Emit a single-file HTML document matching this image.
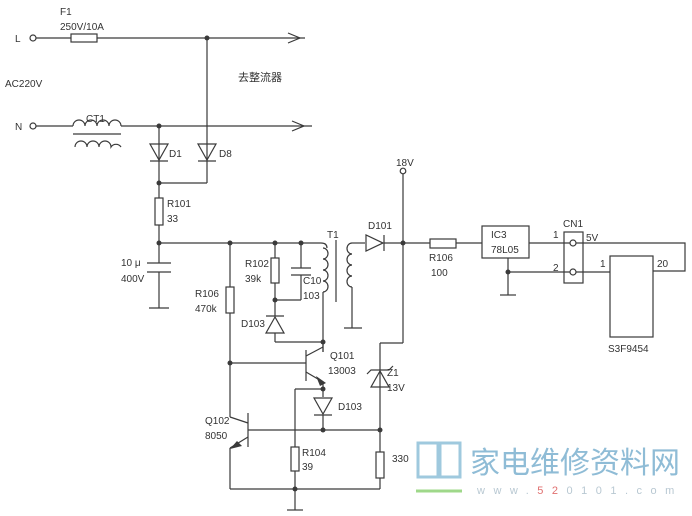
<!DOCTYPE html>
<html><head><meta charset="utf-8"><style>
html,body{margin:0;padding:0;background:#fff}
svg{display:block}
text{font-family:"Liberation Sans","Noto Sans CJK SC",sans-serif;fill:#333;font-size:10px}
</style></head><body>
<svg width="692" height="516" viewBox="0 0 692 516" xmlns="http://www.w3.org/2000/svg">
<rect width="692" height="516" fill="#fff"/>
<g stroke="#3a3a3a" stroke-width="1.2" fill="none">
<circle cx="33" cy="38" r="3"/>
<line x1="36" y1="38" x2="71" y2="38"/>
<rect x="71" y="34" width="26" height="8"/>
<line x1="97" y1="38" x2="305" y2="38"/>
<polyline points="288,33 300,38 288,43"/>
<circle cx="33" cy="126" r="3"/>
<line x1="36" y1="126" x2="73" y2="126"/>
<path d="M73,126 a6,6 0 0 1 12,0 a6,6 0 0 1 12,0 a6,6 0 0 1 12,0 a6,6 0 0 1 12,0"/>
<line x1="73" y1="134" x2="121" y2="134"/>
<path d="M75,147 a6,6 0 0 1 12,0 a6,6 0 0 1 12,0 a6,6 0 0 1 12,0 a6,6 0 0 1 10,0"/>
<line x1="121" y1="126" x2="312" y2="126"/>
<polyline points="292,121 304,126 292,131"/>
<line x1="159" y1="126" x2="159" y2="198"/>
<line x1="207" y1="38" x2="207" y2="183"/>
<line x1="207" y1="183" x2="159" y2="183"/>
<polygon points="150,144 168,144 159,160"/>
<line x1="150" y1="161" x2="168" y2="161"/>
<polygon points="198,144 216,144 207,160"/>
<line x1="198" y1="161" x2="216" y2="161"/>
<rect x="155" y="198" width="8" height="27"/>
<line x1="159" y1="225" x2="159" y2="263"/>
<line x1="147" y1="263" x2="171" y2="263"/>
<line x1="147" y1="272" x2="171" y2="272"/>
<line x1="159" y1="272" x2="159" y2="308"/>
<line x1="149" y1="308" x2="169" y2="308"/>
<line x1="159" y1="243" x2="321" y2="243"/>
<path d="M321,243 q6,0 6,5"/>
<line x1="230" y1="243" x2="230" y2="287"/>
<rect x="226" y="287" width="8" height="26"/>
<line x1="230" y1="313" x2="230" y2="417"/>
<line x1="275" y1="243" x2="275" y2="258"/>
<rect x="271" y="258" width="8" height="25"/>
<line x1="275" y1="283" x2="275" y2="316"/>
<line x1="275" y1="300" x2="301" y2="300"/>
<line x1="301" y1="243" x2="301" y2="268"/>
<line x1="291" y1="268" x2="311" y2="268"/>
<line x1="291" y1="275" x2="311" y2="275"/>
<line x1="301" y1="275" x2="301" y2="300"/>
<line x1="266" y1="316" x2="284" y2="316"/>
<polygon points="275,317 266,333 284,333"/>
<line x1="275" y1="333" x2="275" y2="342"/>
<line x1="275" y1="342" x2="323" y2="342"/>
<path d="M323,248 a5,5.5 0 0 1 0,11 a5,5.5 0 0 1 0,11 a5,5.5 0 0 1 0,11 a5,5.5 0 0 1 0,11"/>
<line x1="323" y1="292" x2="323" y2="352"/>
<line x1="336" y1="240" x2="336" y2="302"/>
<path d="M352,243 a5,5.5 0 0 0 0,11 a5,5.5 0 0 0 0,11 a5,5.5 0 0 0 0,11 a5,5.5 0 0 0 0,11"/>
<line x1="352" y1="287" x2="352" y2="328"/>
<line x1="344" y1="328" x2="362" y2="328"/>
<line x1="352" y1="243" x2="365" y2="243"/>
<polygon points="366,235 366,251 383,243"/>
<line x1="384" y1="235" x2="384" y2="251"/>
<line x1="384" y1="243" x2="430" y2="243"/>
<circle cx="403" cy="171" r="2.8"/>
<line x1="403" y1="174" x2="403" y2="343"/>
<line x1="403" y1="343" x2="380" y2="343"/>
<line x1="380" y1="343" x2="380" y2="452"/>
<polygon points="380,371 371,387 389,387"/>
<polyline points="367,374 371,370 389,370 393,366"/>
<rect x="376" y="452" width="8" height="26"/>
<line x1="380" y1="478" x2="380" y2="489"/>
<line x1="230" y1="363" x2="306" y2="363"/>
<line x1="306" y1="350" x2="306" y2="381"/>
<line x1="306" y1="356" x2="323" y2="347"/>
<line x1="306" y1="372" x2="323" y2="382"/>
<line x1="323" y1="342" x2="323" y2="352"/>
<line x1="323" y1="382" x2="323" y2="397"/>
<line x1="323" y1="389" x2="295" y2="389"/>
<line x1="295" y1="389" x2="295" y2="447"/>
<polygon points="314,398 332,398 323,414"/>
<line x1="314" y1="415" x2="332" y2="415"/>
<line x1="323" y1="415" x2="323" y2="430"/>
<line x1="248" y1="413" x2="248" y2="447"/>
<line x1="248" y1="430" x2="380" y2="430"/>
<line x1="230" y1="417" x2="248" y2="423"/>
<line x1="248" y1="437" x2="230" y2="448"/>
<line x1="230" y1="448" x2="230" y2="489"/>
<rect x="291" y="447" width="8" height="24"/>
<line x1="295" y1="471" x2="295" y2="510"/>
<line x1="230" y1="489" x2="380" y2="489"/>
<line x1="287" y1="510" x2="303" y2="510"/>
<rect x="430" y="239" width="26" height="9"/>
<line x1="456" y1="243" x2="482" y2="243"/>
<rect x="482" y="226" width="47" height="32"/>
<line x1="529" y1="243" x2="570" y2="243"/>
<line x1="508" y1="258" x2="508" y2="295"/>
<line x1="500" y1="295" x2="516" y2="295"/>
<line x1="508" y1="272" x2="570" y2="272"/>
<rect x="564" y="232" width="19" height="51"/>
<circle cx="573" cy="243" r="3"/>
<circle cx="573" cy="272" r="3"/>
<polyline points="576,243 685,243 685,271 653,271"/>
<line x1="576" y1="272" x2="610" y2="272"/>
<rect x="610" y="256" width="43" height="81"/>
</g>
<polygon points="316,376 326,383 320,386" fill="#3a3a3a"/>
<polygon points="237,441 230,449 242,446" fill="#3a3a3a"/>
<g fill="#3a3a3a">
<circle cx="207" cy="38" r="2.5"/><circle cx="159" cy="126" r="2.5"/><circle cx="159" cy="183" r="2.5"/>
<circle cx="159" cy="243" r="2.5"/><circle cx="230" cy="243" r="2.5"/><circle cx="275" cy="243" r="2.5"/><circle cx="301" cy="243" r="2.5"/>
<circle cx="275" cy="300" r="2.5"/><circle cx="323" cy="342" r="2.5"/><circle cx="230" cy="363" r="2.5"/>
<circle cx="323" cy="389" r="2.5"/><circle cx="323" cy="430" r="2.5"/><circle cx="380" cy="430" r="2.5"/>
<circle cx="295" cy="489" r="2.5"/><circle cx="403" cy="243" r="2.5"/><circle cx="508" cy="272" r="2.5"/>
</g>
<g>
<text x="60" y="15">F1</text>
<text x="60" y="30">250V/10A</text>
<text x="15" y="42">L</text>
<text x="15" y="130">N</text>
<text x="5" y="87">AC220V</text>
<text x="238" y="81" style="font-size:11px">去整流器</text>
<text x="86" y="122">CT1</text>
<text x="169" y="157">D1</text>
<text x="219" y="157">D8</text>
<text x="167" y="207">R101</text>
<text x="167" y="222">33</text>
<text x="121" y="266">10 μ</text>
<text x="121" y="282">400V</text>
<text x="195" y="297">R106</text>
<text x="195" y="312">470k</text>
<text x="245" y="267">R102</text>
<text x="245" y="282">39k</text>
<text x="303" y="284">C10</text>
<text x="303" y="299">103</text>
<text x="241" y="327">D103</text>
<text x="327" y="238">T1</text>
<text x="368" y="229">D101</text>
<text x="396" y="166">18V</text>
<text x="330" y="359">Q101</text>
<text x="328" y="374">13003</text>
<text x="387" y="376">Z1</text>
<text x="387" y="391">13V</text>
<text x="338" y="410">D103</text>
<text x="205" y="424">Q102</text>
<text x="205" y="439">8050</text>
<text x="302" y="456">R104</text>
<text x="302" y="470">39</text>
<text x="392" y="462">330</text>
<text x="429" y="261">R106</text>
<text x="431" y="276">100</text>
<text x="491" y="238">IC3</text>
<text x="491" y="253">78L05</text>
<text x="563" y="227">CN1</text>
<text x="553" y="238">1</text>
<text x="553" y="271">2</text>
<text x="586" y="241">5V</text>
<text x="600" y="267">1</text>
<text x="657" y="267">20</text>
<text x="608" y="352">S3F9454</text>
</g>
<g fill="none" stroke="#9fc9de" stroke-width="3">
<rect x="418" y="443" width="20" height="34"/>
<rect x="440" y="443" width="20" height="34"/>
</g>
<line x1="416" y1="491" x2="462" y2="491" stroke="#9fd88a" stroke-width="3"/>
<text x="470" y="473" style="font-size:30px;fill:#8fbcd6;font-family:'Noto Sans CJK SC',sans-serif">家电维修资料网</text>
<text x="477" y="494" style="font-size:11px;fill:#b8c8d2;letter-spacing:8.5px">www.<tspan style="fill:#e07070">52</tspan>0101.com</text>
</svg>
</body></html>
